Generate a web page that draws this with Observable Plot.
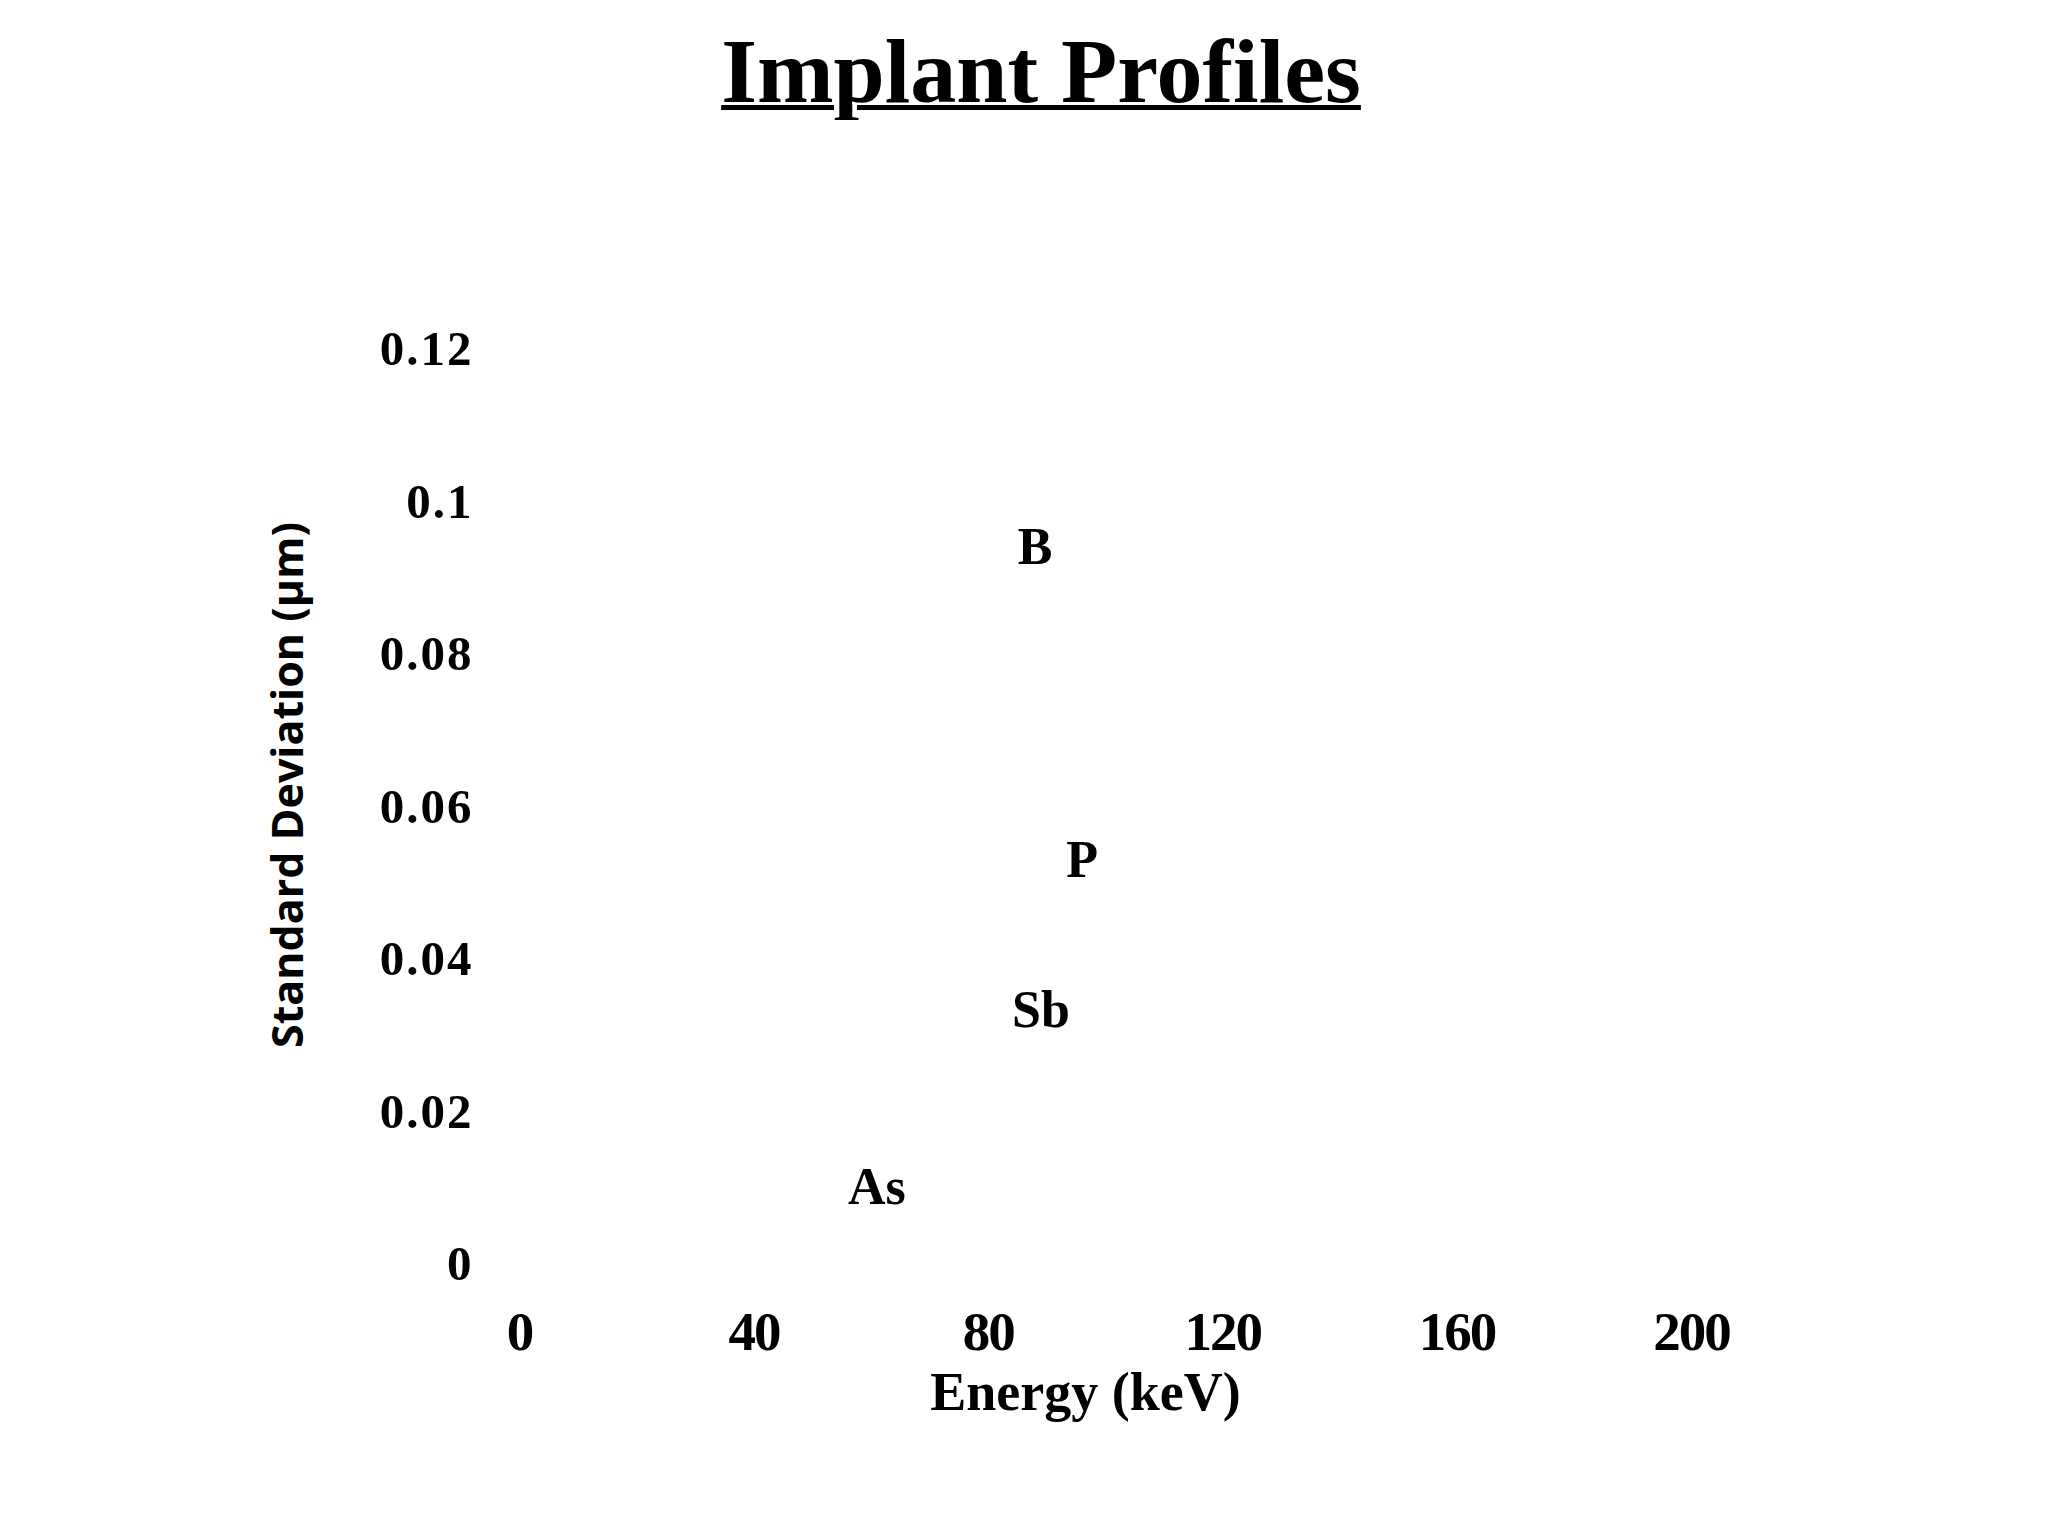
<!DOCTYPE html>
<html><head><meta charset="utf-8">
<script src="https://cdn.jsdelivr.net/npm/d3@7"></script>
<script src="https://cdn.jsdelivr.net/npm/@observablehq/plot@0.6"></script>
<style>
html,body{margin:0;padding:0;background:#fff;}
#wrap{position:relative;width:2048px;height:1536px;overflow:hidden;background:#fff;}
#title{position:absolute;top:25px;left:1041px;transform:translateX(-50%);font-family:"Liberation Serif","Times New Roman",serif;font-weight:bold;font-size:92px;line-height:1;white-space:nowrap;text-decoration:underline;text-decoration-thickness:5px;text-underline-offset:3px;color:#000;}
#chart{position:absolute;top:120px;left:0;}
g[aria-label="y-axis tick label"] text{letter-spacing:2px;}
g[aria-label="x-axis tick label"] text{letter-spacing:-2px;}
</style></head><body>
<div id="wrap"><div id="title">Implant Profiles</div><div id="chart"></div></div>
<script>
const elements = ["B", "P", "Sb", "As"];
const energy = [88, 96, 89, 61];
const stdDev = [0.094, 0.053, 0.0333, 0.0101];
const xTicks = [0, 40, 80, 120, 160, 200];
const yTicks = [0, 0.02, 0.04, 0.06, 0.08, 0.1, 0.12];
const xLabel = "Energy (keV)";
const yLabel = "Standard Deviation (µm)";

const data = elements.map((e, i) => ({element: e, energy: energy[i], sd: stdDev[i]}));
const serif = '"Liberation Serif","Times New Roman",serif';

const plot = Plot.plot({
  width: 2048,
  height: 1416,
  marginLeft: 519,
  marginRight: 357,
  marginTop: 229,
  marginBottom: 272,
  style: {background: "#fff", color: "#000", overflow: "visible"},
  x: {domain: [0, 200]},
  y: {domain: [0, 0.12]},
  marks: [
    Plot.axisX({ticks: xTicks, tickSize: 0, tickPadding: 46, fontSize: 55, fontFamily: serif, fontWeight: "bold", label: null, tickFormat: d => String(d)}),
    Plot.axisY({ticks: yTicks, tickSize: 0, tickPadding: 46, fontSize: 49, fontFamily: serif, fontWeight: "bold", label: null, tickFormat: d => String(+d.toFixed(2))}),
    Plot.text([xLabel], {text: d => d, frameAnchor: "bottom", lineAnchor: "bottom", dx: -20, dy: 145, fontSize: 54, fontFamily: serif, fontWeight: "bold", fill: "#000"}),
    Plot.text([yLabel], {text: d => d, frameAnchor: "left", textAnchor: "middle", lineAnchor: "middle", rotate: -90, dx: -230, dy: -22, fontSize: 43, fontFamily: '"Open Sans",sans-serif', fontWeight: "bold", fill: "#000"}),
    Plot.text(data, {x: "energy", y: "sd", text: "element", fontSize: 52, fontFamily: serif, fontWeight: "bold", fill: "#000"})
  ]
});
document.getElementById("chart").appendChild(plot);
</script>
</body></html>
